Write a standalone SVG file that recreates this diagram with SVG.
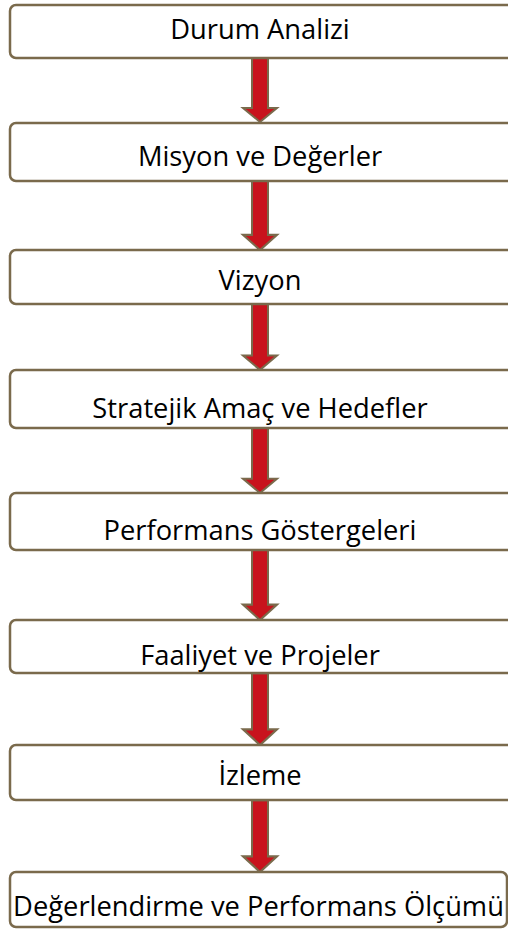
<svg xmlns="http://www.w3.org/2000/svg" width="508" height="929" viewBox="0 0 508 929">
<defs>
<style>
.box{fill:#ffffff;stroke:#7a6a4c;stroke-width:2.5}
.lbl{font-family:"Open Sans","Liberation Sans",sans-serif;font-size:27.3px;fill:#000;text-anchor:middle}
.arr{fill:#c8131d;stroke:#7a6a4c;stroke-width:2;stroke-linejoin:miter}
</style>
<path id="ar" d="M-8,0 H8 V50 H17 L0,64 L-17,50 H-8 Z"/>
</defs>
<rect width="508" height="929" fill="#ffffff"/>
<g id="connectors">
<use href="#ar" class="arr" transform="translate(260,58) scale(1,1)"/>
<use href="#ar" class="arr" transform="translate(260,181) scale(1,1.078)"/>
<use href="#ar" class="arr" transform="translate(260,304) scale(1,1.03)"/>
<use href="#ar" class="arr" transform="translate(260,428) scale(1,1.016)"/>
<use href="#ar" class="arr" transform="translate(260,550) scale(1,1.094)"/>
<use href="#ar" class="arr" transform="translate(260,673) scale(1,1.125)"/>
<use href="#ar" class="arr" transform="translate(260,800) scale(1,1.125)"/>
</g>
<g id="n1"><rect class="box" x="10" y="5" width="510" height="53" rx="6"/><text class="lbl" x="260" y="39">Durum Analizi</text></g>
<g id="n2"><rect class="box" x="10" y="123" width="510" height="58" rx="6"/><text class="lbl" x="260" y="166">Misyon ve Değerler</text></g>
<g id="n3"><rect class="box" x="10" y="250" width="510" height="54" rx="6"/><text class="lbl" x="260" y="290">Vizyon</text></g>
<g id="n4"><rect class="box" x="10" y="370" width="510" height="58" rx="6"/><text class="lbl" x="260" y="418">Stratejik Amaç ve Hedefler</text></g>
<g id="n5"><rect class="box" x="10" y="493" width="510" height="57" rx="6"/><text class="lbl" x="260" y="540">Performans Göstergeleri</text></g>
<g id="n6"><rect class="box" x="10" y="620" width="510" height="53" rx="6"/><text class="lbl" x="260" y="665">Faaliyet ve Projeler</text></g>
<g id="n7"><rect class="box" x="10" y="745" width="510" height="55" rx="6"/><text class="lbl" x="260" y="785">İzleme</text></g>
<g id="n8"><rect class="box" x="10" y="872" width="497" height="55" rx="6"/><text class="lbl" x="258.5" y="916">Değerlendirme ve Performans Ölçümü</text></g>
</svg>
